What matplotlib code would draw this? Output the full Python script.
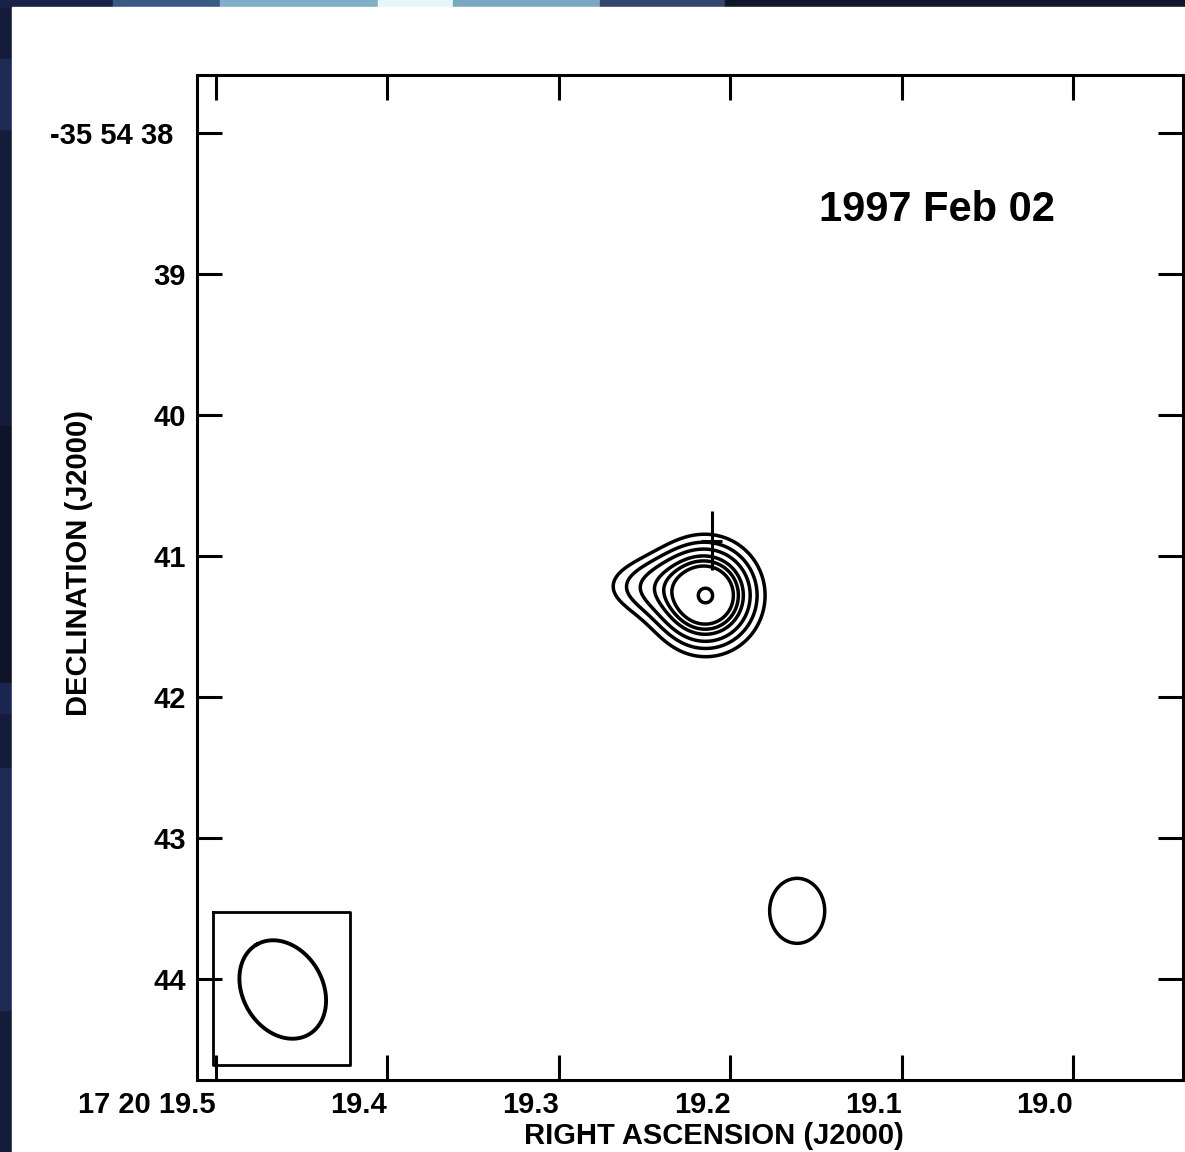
"""VLA map of the radio counterpart, 1997 Feb 02 epoch (contour plot)."""
import matplotlib
matplotlib.use("Agg")
import matplotlib.pyplot as plt
import matplotlib.transforms as mtransforms
import numpy as np
from matplotlib.patches import Rectangle

plt.rcParams["font.family"] = ["Liberation Sans", "DejaVu Sans"]
plt.rcParams["font.weight"] = "bold"

# RA seconds (17h20m xx.xs) and Dec arcsec (-35d54' xx") ticks
RA_TICKS = [19.5, 19.4, 19.3, 19.2, 19.1, 19.0]
RA_LABELS = ["17 20 19.5", "19.4", "19.3", "19.2", "19.1", "19.0"]
DEC_TICKS = [38, 39, 40, 41, 42, 43, 44]
DEC_LABELS = ["-35 54 38", "39", "40", "41", "42", "43", "44"]
EPOCH = "1997 Feb 02"

# source components: profile, RA (s), Dec ("), peak, size_x ("), size_y (")
# (exp: size = scale length, gauss: size = sigma)
COMP_KIND = ["exp", "gauss", "gauss"]
COMP_RA = [19.2143, 19.2522, 19.1610]
COMP_DEC = [41.284, 41.213, 43.520]
COMP_PEAK = [1.00, 0.12, 0.18]
COMP_SX = [0.213, 0.284, 0.275]
COMP_SY = [0.220, 0.156, 0.325]
LEVELS = [0.140, 0.183, 0.231, 0.291, 0.344, 0.407, 0.819]

# cross marking the catalogue position
CROSS_RA, CROSS_DEC = 19.2108, 40.894
CROSS_ERR_RA, CROSS_ERR_DEC = 0.006, 0.210

# restoring beam: centre, major/minor ("), PA (deg) and the box around it
BEAM_RA, BEAM_DEC = 19.461, 44.078
BEAM_MAJ, BEAM_MIN, BEAM_PA = 0.737, 0.567, 30.0
BOX_RA = (19.5017, 19.4219)
BOX_DEC = (43.525, 44.617)

ARCSEC_PER_S = 15 * np.cos(np.radians(35.91))

W, H = 1185, 1152
fig = plt.figure(figsize=(W / 100, H / 100), dpi=100, facecolor="#141c3a")

# dark slide background with a few lighter bands, white page on top
for y0, y1, c in [(59, 129, "#1d2b55"), (426, 683, "#0d1328"), (683, 713, "#1a2650"),
                  (768, 1010, "#1c2a55")]:
    fig.patches.append(Rectangle((0, 1 - y1 / H), 12 / W, (y1 - y0) / H,
                                 transform=fig.transFigure, color=c, zorder=0))
for x0, x1, c in [(0, 113, "#1a2347"), (113, 220, "#3a5a85"), (220, 378, "#7fb0c8"),
                  (378, 453, "#e6f7fb"), (453, 600, "#79a8c0"), (600, 725, "#34466e"),
                  (725, W, "#0f172b")]:
    fig.patches.append(Rectangle((x0 / W, 1 - 7 / H), (x1 - x0) / W, 7 / H,
                                 transform=fig.transFigure, color=c, zorder=0))
fig.patches.append(Rectangle((12 / W, 0), 1 - 12 / W, 1 - 7 / H,
                             transform=fig.transFigure, color="white", zorder=1))

ax = fig.add_axes([197 / W, 72 / H, 986 / W, 1005 / H])
ax.set_facecolor("white")
ax.set_zorder(2)

# brightness model on a grid
ra = np.linspace(19.32, 19.08, 700)
dec = np.linspace(40.2, 44.4, 900)
RA, DEC = np.meshgrid(ra, dec)
field = np.zeros_like(RA)
for kind, r0, d0, pk, sx, sy in zip(COMP_KIND, COMP_RA, COMP_DEC, COMP_PEAK, COMP_SX, COMP_SY):
    q = np.hypot((RA - r0) * ARCSEC_PER_S / sx, (DEC - d0) / sy)
    if kind == "exp":
        field += pk * np.exp(-q)
    else:
        field += pk * np.exp(-0.5 * q ** 2)
ax.contour(RA, DEC, field, levels=LEVELS, colors="black", linewidths=2.5)

ax.errorbar(CROSS_RA, CROSS_DEC, xerr=CROSS_ERR_RA, yerr=CROSS_ERR_DEC,
            fmt="none", ecolor="black", elinewidth=2.2, capsize=0)

# beam ellipse
t = np.linspace(0, 2 * np.pi, 200)
u = BEAM_MAJ / 2 * np.cos(t)
v = BEAM_MIN / 2 * np.sin(t)
pa = np.radians(BEAM_PA)
north = u * np.cos(pa) - v * np.sin(pa)
east = u * np.sin(pa) + v * np.cos(pa)
ax.plot(BEAM_RA + east / ARCSEC_PER_S, BEAM_DEC - north, color="black", lw=2.8)
ax.plot([BOX_RA[0], BOX_RA[1], BOX_RA[1], BOX_RA[0], BOX_RA[0]],
        [BOX_DEC[0], BOX_DEC[0], BOX_DEC[1], BOX_DEC[1], BOX_DEC[0]],
        color="black", lw=2.0)

ax.set_xlim(19.511, 18.936)
ax.set_ylim(44.72, 37.59)

ax.set_xticks(RA_TICKS)
ax.set_xticklabels(RA_LABELS, ha="right")
ax.set_yticks(DEC_TICKS)
ax.set_yticklabels(DEC_LABELS)
ax.tick_params(direction="in", length=18, width=2.2, labelsize=21,
               top=True, right=True, colors="black")
ax.tick_params(axis="x", pad=8)
ax.tick_params(axis="y", pad=8)
for s in ax.spines.values():
    s.set_linewidth(2.2)

# the full declination label sits a little further out than the short ones
first = ax.get_yticklabels()[0]
first.set_transform(first.get_transform()
                    + mtransforms.ScaledTranslation(-13 / 100, 0, fig.dpi_scale_trans))

ax.set_xlabel("RIGHT ASCENSION (J2000)", fontsize=21, fontweight="bold", va="center")
ax.xaxis.set_label_coords(0.5243, -0.0557)
ax.set_ylabel("DECLINATION (J2000)", fontsize=21, fontweight="bold", va="center")
ax.yaxis.set_label_coords(-0.1197, 0.5144)

ax.text(0.7505, 0.8657, EPOCH, transform=ax.transAxes, fontsize=30,
        fontweight="bold", ha="center", va="center")

fig.savefig("out.png", dpi=100, facecolor=fig.get_facecolor())
